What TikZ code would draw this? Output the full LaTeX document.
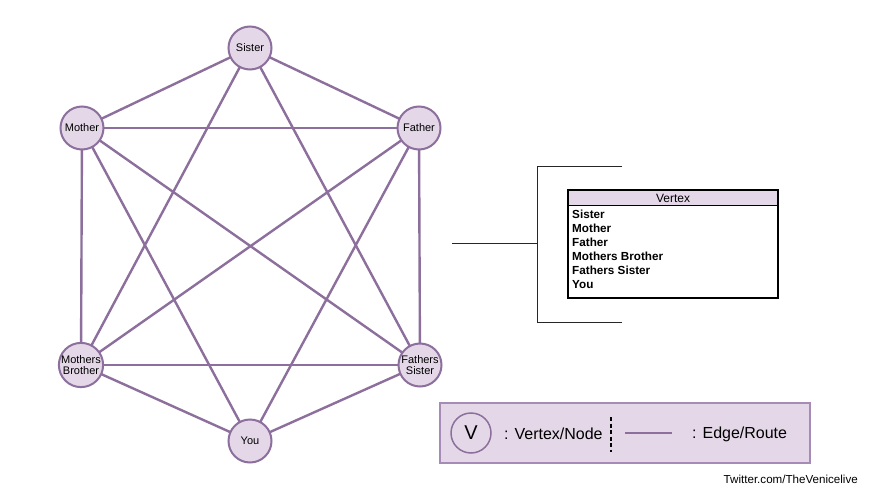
\documentclass[tikz,border=0pt]{standalone}
\usepackage{fontspec}
\setmainfont{Liberation Sans}
\definecolor{vfill}{HTML}{E4D8E8}
\definecolor{vline}{HTML}{8C6F9C}
\definecolor{lborder}{HTML}{A58BB5}
\begin{document}
\begin{tikzpicture}[x=1pt,y=-1pt,
  vtx/.style={circle,draw=vline,fill=vfill,line width=2pt,minimum size=43pt,inner sep=0pt,align=center,font=\fontsize{11}{11.5}\selectfont},
  edg/.style={draw=vline,line width=2.4pt},
  brk/.style={draw=black!85,line width=1pt},
  item/.style={anchor=west,inner sep=0pt,font=\bfseries\fontsize{11.7}{12}\selectfont}]
\useasboundingbox (0,0) rectangle (880,489);
\fill[white] (0,0) rectangle (880,489);
% edges
\coordinate (pS) at (250,48);
\coordinate (pM) at (82,128);
\coordinate (pF) at (419,128);
\coordinate (pB) at (81,365);
\coordinate (pR) at (420,365);
\coordinate (pY) at (250,441);
\foreach \a/\b in {pS/pM,pS/pF,pS/pB,pS/pR,pM/pF,pM/pB,pM/pR,pM/pY,pF/pB,pF/pR,pF/pY,pB/pR,pB/pY,pR/pY}
  \draw[edg] (\a) -- (\b);
% vertices
\node[vtx] (S) at (pS) {Sister};
\node[vtx] (M) at (pM) {Mother};
\node[vtx] (F) at (pF) {Father};
\node[vtx] (B) at (pB) {Mothers\\Brother};
\node[vtx] (R) at (pR) {Fathers\\Sister};
\node[vtx] (Y) at (pY) {You};
% bracket
\coordinate (b0) at (452,243);
\coordinate (b1) at (537,243);
\coordinate (b2) at (537,167);
\coordinate (b3) at (622,167);
\coordinate (b4) at (537,322);
\coordinate (b5) at (622,322);
\draw[brk] (b0) -- (b1);
\draw[brk] (b3) -- (b2) -- (b4) -- (b5);
% table
\coordinate (t0) at (568,190);
\coordinate (t1) at (778,298);
\fill[vfill] (568,190) rectangle (778,205);
\draw[black,line width=1pt] (568,205) -- (778,205);
\draw[black,line width=2pt] (t0) rectangle (t1);
\node[font=\fontsize{12}{12}\selectfont,inner sep=0pt] (th) at (673,198.5) {Vertex};
\node[item] (i1) at (572,214) {Sister};
\node[item] (i2) at (572,228.2) {Mother};
\node[item] (i3) at (572,242.4) {Father};
\node[item] (i4) at (572,256.6) {Mothers Brother};
\node[item] (i5) at (572,270.8) {Fathers Sister};
\node[item] (i6) at (572,285) {You};
% legend
\draw[draw=lborder,fill=vfill,line width=2pt] (440,403) rectangle (810,463);
\node[circle,draw=vline,line width=1.5pt,minimum size=40pt,inner sep=0pt,font=\fontsize{20}{20}\selectfont] (lv) at (471,433) {V};
\node[anchor=west,inner sep=0pt,font=\fontsize{16}{16}\selectfont] (lt1) at (504,434) {: Vertex/Node};
\coordinate (d0) at (611,417);
\coordinate (d1) at (611,452);
\draw[black,line width=1.6pt,dash pattern=on 4pt off 2.5pt] (d0) -- (d1);
\coordinate (e0) at (625,433);
\coordinate (e1) at (672,433);
\draw[edg] (e0) -- (e1);
\node[anchor=west,inner sep=0pt,font=\fontsize{16}{16}\selectfont] (lt2) at (692,434) {: Edge/Route};
\node[anchor=east,inner sep=0pt,font=\fontsize{11.6}{12}\selectfont] (tw) at (858,479) {Twitter.com/TheVenicelive};
\end{tikzpicture}
\end{document}
